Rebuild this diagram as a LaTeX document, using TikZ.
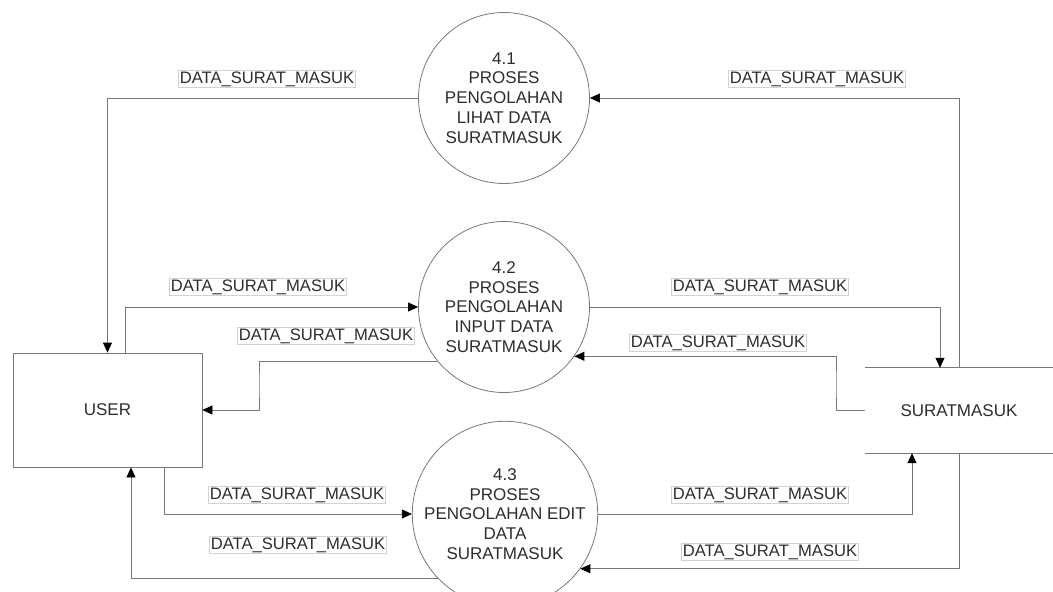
\documentclass[tikz,border=0pt]{standalone}
\usepackage{fontspec}
\setmainfont{Liberation Sans}
\usetikzlibrary{arrows.meta}
\definecolor{linegray}{RGB}{120,120,120}
\definecolor{textgray}{RGB}{45,45,45}
\begin{document}
\begin{tikzpicture}[x=1pt,y=-1pt,
  every node/.style={text=textgray},
  process/.style={circle,draw=linegray,line width=0.8pt,minimum size=171pt,inner sep=0pt,
    align=center,font=\fontsize{17}{19.8}\selectfont},
  entity/.style={rectangle,draw=linegray,line width=0.8pt,minimum width=189pt,minimum height=114pt,
    font=\fontsize{17}{20}\selectfont},
  store/.style={rectangle,minimum width=188pt,minimum height=85pt,font=\fontsize{17}{20}\selectfont},
  flow/.style={draw=linegray,line width=0.8pt,-{Triangle[length=10pt,width=9pt,fill=black,color=black]}},
  lbl/.style={draw=gray!35,line width=0.5pt,inner sep=1.2pt,font=\fontsize{16.6}{18}\selectfont}]

\useasboundingbox (0,0) rectangle (1053,592);

% processes, external entity and data store
\node[process] (p1) at (504,98)  {4.1\\PROSES\\PENGOLAHAN\\LIHAT DATA\\SURATMASUK};
\node[process] (p2) at (504,307) {4.2\\PROSES\\PENGOLAHAN\\INPUT DATA\\SURATMASUK};
\node[process] (p3) at (505,514) {4.3\\PROSES\\PENGOLAHAN EDIT\\DATA\\SURATMASUK};
\node[entity] (user) at (107.5,410) {USER};
\node[store] (sm) at (959,410.5) {SURATMASUK};
\draw[linegray,line width=0.8pt] (sm.north west) -- (sm.north east);
\draw[linegray,line width=0.8pt] (sm.south west) -- (sm.south east);

% bend points
\coordinate (b4) at (259,385);
\coordinate (b6) at (836,385);

% data flows
\draw[flow] (p1.west) -| (user.north);
\draw[flow] (sm.north) |- (p1.east);

\draw[flow] ([xshift=18pt]user.north) |- (p2.west);
\draw[flow] (p2.219.4) -| (b4) |- (user.east);
\draw[flow] (p2.east) -| ([xshift=-19pt]sm.north);
\draw[flow] (sm.west) -| (b6) |- (p2.-35.2);

\draw[flow] ([xshift=56.5pt]user.south) |- (p3.west);
\draw[flow] (p3.224) -| ([xshift=23.5pt]user.south);
\draw[flow] (p3.east) -| ([xshift=-47pt]sm.south);
\draw[flow] (sm.south) |- (p3.-36);

% flow labels
\node[lbl] (l1)  at (267,79)  {DATA\_SURAT\_MASUK};
\node[lbl] (l2)  at (817,79)  {DATA\_SURAT\_MASUK};
\node[lbl] (l3)  at (258,287) {DATA\_SURAT\_MASUK};
\node[lbl] (l4)  at (326,336) {DATA\_SURAT\_MASUK};
\node[lbl] (l5)  at (760,287) {DATA\_SURAT\_MASUK};
\node[lbl] (l6)  at (718,343) {DATA\_SURAT\_MASUK};
\node[lbl] (l7)  at (297,495) {DATA\_SURAT\_MASUK};
\node[lbl] (l8)  at (298,545) {DATA\_SURAT\_MASUK};
\node[lbl] (l9)  at (760,495) {DATA\_SURAT\_MASUK};
\node[lbl] (l10) at (770,552) {DATA\_SURAT\_MASUK};
\end{tikzpicture}
\end{document}
